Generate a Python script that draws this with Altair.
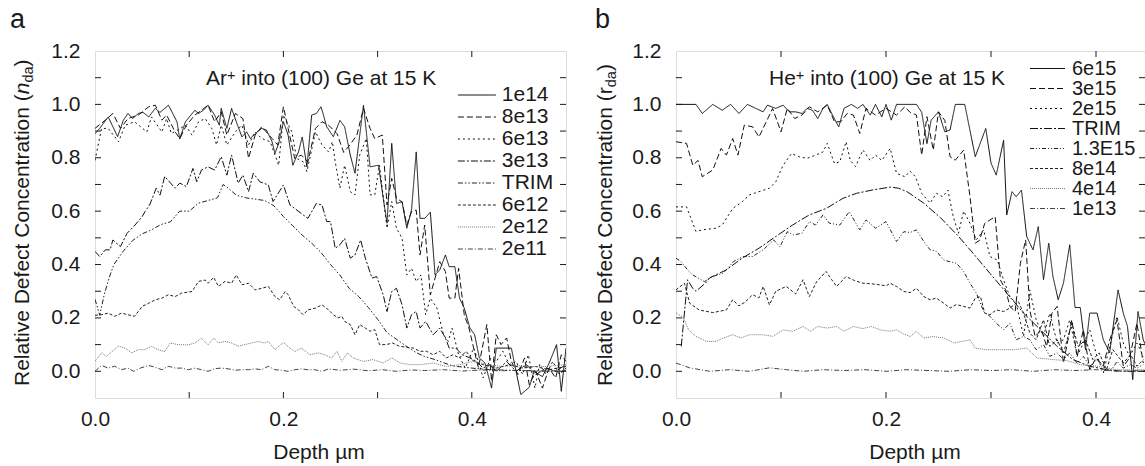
import altair as alt
import pandas as pd

FONT = "Liberation Sans"
INK = "#1a1a1a"

# ---------------- panel a : Ar+ ----------------
A_NAMES = ["1e14", "8e13", "6e13", "3e13", "TRIM", "6e12", "2e12", "2e11"]
A_DASH = [[1, 0], [6, 3], [2, 3], [7, 2, 2, 2], [5, 2, 1.5, 2, 1.5, 2], [3, 2], [1, 1], [5, 2, 1, 2]]
A_COLORS = ["#111111", "#111111", "#111111", "#111111", "#222222", "#222222", "#777777", "#444444"]

A_1E14 = [(0, 0.89), (0.005, 0.91), (0.014, 0.953), (0.024, 0.879), (0.03, 0.94), (0.035, 0.966), (0.04, 0.947),
          (0.046, 0.966), (0.051, 0.97), (0.057, 0.953), (0.064, 0.985), (0.069, 0.97), (0.078, 0.997), (0.087, 0.935),
          (0.09, 0.87), (0.096, 0.935), (0.106, 0.978), (0.11, 0.966), (0.115, 0.978), (0.12, 0.997), (0.127, 0.96),
          (0.132, 0.922), (0.134, 0.985), (0.14, 0.91), (0.145, 0.985), (0.15, 0.935), (0.156, 0.878), (0.161, 0.897),
          (0.165, 0.872), (0.17, 0.891), (0.177, 0.91), (0.182, 0.904), (0.188, 0.86), (0.191, 0.816), (0.195, 0.853),
          (0.2, 0.935), (0.205, 0.885), (0.21, 0.772), (0.216, 0.822), (0.22, 0.878), (0.225, 0.766), (0.23, 0.96),
          (0.235, 0.966), (0.24, 0.991), (0.246, 0.916), (0.253, 0.879), (0.26, 0.94), (0.265, 0.916), (0.271, 0.81),
          (0.276, 0.742), (0.285, 0.997), (0.292, 0.766), (0.301, 0.772), (0.306, 0.648), (0.31, 0.555), (0.315, 0.854),
          (0.32, 0.629), (0.326, 0.635), (0.331, 0.536), (0.336, 0.604), (0.341, 0.822), (0.345, 0.573), (0.35, 0.573),
          (0.356, 0.596), (0.361, 0.361), (0.366, 0.38), (0.372, 0.436), (0.376, 0.392), (0.382, 0.392), (0.387, 0.274),
          (0.392, 0.237), (0.398, 0.162), (0.403, 0.137), (0.408, 0.05), (0.414, 0.031), (0.421, -0.063), (0.426, 0.087),
          (0.433, 0.087), (0.442, 0.087), (0.447, 0.0), (0.452, -0.087), (0.461, -0.06), (0.466, 0.0), (0.475, -0.02),
          (0.482, 0.03), (0.49, 0.1), (0.495, -0.075), (0.5, 0.087)]
A_8E13 = [(0, 0.91), (0.011, 0.941), (0.019, 0.966), (0.027, 0.91), (0.035, 0.947), (0.046, 0.96), (0.057, 0.991),
          (0.064, 0.997), (0.071, 0.941), (0.076, 0.96), (0.085, 0.897), (0.09, 0.872), (0.097, 0.922), (0.106, 0.96),
          (0.113, 0.978), (0.12, 0.997), (0.127, 0.935), (0.134, 0.972), (0.14, 0.885), (0.149, 0.966), (0.157, 0.947),
          (0.163, 0.798), (0.17, 0.885), (0.177, 0.916), (0.188, 0.872), (0.194, 0.848), (0.2, 0.991), (0.205, 0.91),
          (0.212, 0.798), (0.219, 0.81), (0.226, 0.785), (0.234, 0.91), (0.241, 0.935), (0.248, 0.922), (0.257, 0.89),
          (0.264, 0.82), (0.271, 0.85), (0.278, 0.885), (0.285, 0.985), (0.292, 0.91), (0.297, 0.872), (0.305, 0.885),
          (0.31, 0.623), (0.315, 0.723), (0.32, 0.648), (0.326, 0.635), (0.331, 0.548), (0.336, 0.598), (0.341, 0.604),
          (0.345, 0.436), (0.35, 0.548), (0.356, 0.286), (0.361, 0.349), (0.366, 0.411), (0.372, 0.374), (0.376, 0.274),
          (0.382, 0.274), (0.386, 0.386), (0.392, 0.212), (0.397, 0.162), (0.402, 0.087), (0.407, 0.013), (0.416, 0.175),
          (0.421, -0.037), (0.426, 0.137), (0.431, 0.1), (0.437, 0.125), (0.442, 0.037), (0.449, -0.012), (0.456, 0.05),
          (0.461, -0.05), (0.468, 0.0), (0.475, -0.063), (0.482, 0.012), (0.489, -0.025), (0.495, 0.062), (0.5, 0.037)]
A_6E13 = [(0, 0.79), (0.007, 0.91), (0.014, 0.91), (0.025, 0.86), (0.032, 0.922), (0.042, 0.935), (0.055, 0.897),
          (0.06, 0.953), (0.071, 0.897), (0.076, 0.947), (0.081, 0.891), (0.088, 0.904), (0.096, 0.922), (0.103, 0.885),
          (0.11, 0.935), (0.117, 0.947), (0.124, 0.91), (0.129, 0.848), (0.134, 0.922), (0.14, 0.848), (0.149, 0.897),
          (0.156, 0.922), (0.163, 0.848), (0.17, 0.897), (0.177, 0.872), (0.186, 0.86), (0.195, 0.772), (0.2, 0.96),
          (0.209, 0.897), (0.214, 0.798), (0.221, 0.785), (0.225, 0.748), (0.234, 0.897), (0.241, 0.848), (0.248, 0.822),
          (0.252, 0.86), (0.255, 0.785), (0.26, 0.686), (0.265, 0.772), (0.271, 0.673), (0.276, 0.661), (0.281, 0.81),
          (0.288, 0.872), (0.292, 0.661), (0.297, 0.661), (0.302, 0.772), (0.31, 0.536), (0.315, 0.636), (0.32, 0.536),
          (0.326, 0.498), (0.331, 0.361), (0.336, 0.386), (0.341, 0.336), (0.346, 0.361), (0.351, 0.212), (0.356, 0.274),
          (0.363, 0.237), (0.37, 0.137), (0.375, 0.112), (0.379, 0.162), (0.386, 0.062), (0.393, 0.012), (0.402, 0.087),
          (0.407, 0.037), (0.412, -0.025), (0.42, 0.05), (0.426, 0.037), (0.433, 0.075), (0.44, 0.025), (0.447, 0.037),
          (0.454, -0.012), (0.46, 0.062), (0.467, -0.063), (0.472, 0.025), (0.479, -0.012), (0.486, 0.037),
          (0.493, -0.012), (0.5, 0.012)]
A_3E13 = [(0, 0.449), (0.005, 0.43), (0.011, 0.455), (0.016, 0.455), (0.019, 0.492), (0.027, 0.467), (0.034, 0.517),
          (0.041, 0.542), (0.05, 0.579), (0.053, 0.598), (0.058, 0.623), (0.065, 0.686), (0.069, 0.66), (0.074, 0.73),
          (0.085, 0.686), (0.09, 0.705), (0.097, 0.692), (0.104, 0.76), (0.108, 0.71), (0.113, 0.754), (0.12, 0.766),
          (0.127, 0.754), (0.134, 0.804), (0.14, 0.735), (0.145, 0.81), (0.152, 0.705), (0.157, 0.735), (0.163, 0.673),
          (0.168, 0.742), (0.175, 0.71), (0.184, 0.698), (0.189, 0.636), (0.2, 0.698), (0.207, 0.623), (0.212, 0.61),
          (0.221, 0.586), (0.226, 0.573), (0.235, 0.629), (0.241, 0.623), (0.246, 0.561), (0.25, 0.561), (0.255, 0.461),
          (0.26, 0.474), (0.265, 0.498), (0.271, 0.424), (0.276, 0.436), (0.282, 0.492), (0.287, 0.424), (0.294, 0.349),
          (0.299, 0.355), (0.306, 0.286), (0.31, 0.224), (0.315, 0.299), (0.32, 0.311), (0.326, 0.249), (0.331, 0.162),
          (0.336, 0.212), (0.341, 0.224), (0.345, 0.162), (0.351, 0.187), (0.359, 0.137), (0.366, 0.162), (0.372, 0.125),
          (0.376, 0.087), (0.383, 0.087), (0.39, 0.062), (0.398, 0.05), (0.405, 0.037), (0.412, 0.012), (0.419, 0.025),
          (0.426, 0.0), (0.437, 0.037), (0.447, 0.0), (0.458, 0.025), (0.468, -0.012), (0.479, 0.012), (0.489, 0.0),
          (0.5, 0.025)]
A_TRIM = [(0, 0.27), (0.005, 0.21), (0.01, 0.29), (0.015, 0.35), (0.02, 0.40), (0.03, 0.45), (0.04, 0.49),
          (0.05, 0.515), (0.06, 0.53), (0.07, 0.55), (0.08, 0.56), (0.09, 0.60), (0.1, 0.60), (0.11, 0.63), (0.12, 0.64),
          (0.13, 0.65), (0.136, 0.70), (0.14, 0.69), (0.15, 0.66), (0.16, 0.65), (0.17, 0.645), (0.18, 0.64),
          (0.19, 0.62), (0.2, 0.58), (0.21, 0.545), (0.22, 0.51), (0.23, 0.48), (0.24, 0.445), (0.25, 0.40),
          (0.26, 0.36), (0.27, 0.31), (0.28, 0.28), (0.29, 0.24), (0.3, 0.195), (0.31, 0.145), (0.32, 0.12),
          (0.33, 0.095), (0.34, 0.072), (0.35, 0.055), (0.36, 0.045), (0.37, 0.032), (0.38, 0.02), (0.4, 0.012),
          (0.42, 0.006), (0.45, 0.003), (0.5, 0.0)]
A_6E12 = [(0, 0.21), (0.007, 0.212), (0.014, 0.218), (0.021, 0.206), (0.028, 0.218), (0.035, 0.212), (0.042, 0.206),
          (0.05, 0.243), (0.057, 0.255), (0.064, 0.268), (0.071, 0.274), (0.078, 0.287), (0.085, 0.28), (0.092, 0.293),
          (0.103, 0.299), (0.11, 0.337), (0.117, 0.342), (0.12, 0.33), (0.126, 0.352), (0.131, 0.318), (0.138, 0.337),
          (0.145, 0.33), (0.15, 0.361), (0.156, 0.324), (0.163, 0.33), (0.17, 0.305), (0.177, 0.311), (0.184, 0.318),
          (0.191, 0.28), (0.196, 0.268), (0.202, 0.299), (0.205, 0.287), (0.211, 0.243), (0.216, 0.23), (0.221, 0.212),
          (0.226, 0.23), (0.234, 0.237), (0.241, 0.249), (0.248, 0.23), (0.253, 0.212), (0.258, 0.2), (0.262, 0.206),
          (0.265, 0.187), (0.271, 0.175), (0.276, 0.137), (0.281, 0.175), (0.287, 0.162), (0.292, 0.15), (0.297, 0.156),
          (0.302, 0.1), (0.309, 0.1), (0.316, 0.106), (0.323, 0.094), (0.331, 0.09), (0.338, 0.087), (0.345, 0.075),
          (0.352, 0.075), (0.359, 0.062), (0.366, 0.075), (0.373, 0.05), (0.38, 0.062), (0.387, 0.05), (0.394, 0.075),
          (0.402, 0.037), (0.412, 0.025), (0.426, 0.012), (0.44, 0.025), (0.454, 0.012), (0.468, 0.018),
          (0.482, 0.006), (0.5, 0.018)]
A_2E12 = [(0, 0.038), (0.007, 0.069), (0.012, 0.056), (0.018, 0.074), (0.025, 0.094), (0.032, 0.087), (0.039, 0.069),
          (0.046, 0.081), (0.053, 0.081), (0.06, 0.094), (0.067, 0.081), (0.074, 0.074), (0.08, 0.106), (0.088, 0.1),
          (0.099, 0.099), (0.106, 0.106), (0.113, 0.124), (0.12, 0.099), (0.126, 0.124), (0.131, 0.106), (0.138, 0.112),
          (0.145, 0.106), (0.152, 0.094), (0.159, 0.1), (0.166, 0.106), (0.173, 0.112), (0.18, 0.106), (0.184, 0.112),
          (0.191, 0.081), (0.2, 0.108), (0.207, 0.087), (0.212, 0.074), (0.219, 0.087), (0.228, 0.062), (0.237, 0.069),
          (0.244, 0.062), (0.251, 0.05), (0.257, 0.075), (0.262, 0.037), (0.268, 0.069), (0.274, 0.05), (0.285, 0.037),
          (0.295, 0.044), (0.306, 0.031), (0.315, 0.05), (0.324, 0.031), (0.334, 0.025), (0.345, 0.025),
          (0.359, 0.031), (0.373, 0.018), (0.387, 0.025), (0.402, 0.037), (0.416, 0.025), (0.433, 0.018),
          (0.447, 0.022), (0.461, 0.018), (0.479, 0.018), (0.5, 0.025)]
A_2E11 = [(0, 0.0), (0.007, 0.022), (0.014, 0.012), (0.021, 0.019), (0.028, 0.006), (0.035, 0.012), (0.041, 0.0),
          (0.048, 0.012), (0.057, 0.022), (0.064, 0.015), (0.071, 0.006), (0.078, 0.019), (0.085, 0.012), (0.092, 0.012),
          (0.099, 0.006), (0.106, 0.012), (0.113, 0.006), (0.12, 0.0), (0.127, 0.01), (0.134, 0.012), (0.142, 0.009),
          (0.149, 0.004), (0.156, 0.006), (0.163, 0.006), (0.17, 0.009), (0.177, 0.006), (0.184, 0.019), (0.191, 0.006),
          (0.198, 0.004), (0.205, 0.0), (0.212, 0.006), (0.219, 0.009), (0.226, 0.006), (0.233, 0.006), (0.241, 0.0),
          (0.248, 0.009), (0.26, 0.004), (0.275, 0.008), (0.29, 0.002), (0.305, 0.006), (0.32, 0.0), (0.335, 0.005),
          (0.35, 0.003), (0.37, 0.006), (0.39, 0.001), (0.41, 0.005), (0.43, 0.002), (0.45, 0.004), (0.47, 0.0),
          (0.5, 0.003)]
A_SERIES = {"1e14": A_1E14, "8e13": A_8E13, "6e13": A_6E13, "3e13": A_3E13, "TRIM": A_TRIM,
            "6e12": A_6E12, "2e12": A_2E12, "2e11": A_2E11}

# ---------------- panel b : He+ ----------------
B_NAMES = ["6e15", "3e15", "2e15", "TRIM", "1.3E15", "8e14", "4e14", "1e13"]
B_DASH = [[1, 0], [6, 3], [2, 3], [8, 2, 2, 2], [4, 2, 1, 2, 1, 2], [3, 2], [1, 1], [5, 2, 1, 2]]
B_COLORS = ["#111111", "#111111", "#111111", "#111111", "#222222", "#222222", "#777777", "#444444"]

B_6E15 = [(0, 1.0), (0.019, 1.0), (0.025, 0.966), (0.035, 1.0), (0.044, 0.978), (0.052, 1.0), (0.06, 0.966),
          (0.068, 1.0), (0.076, 0.985), (0.083, 0.972), (0.087, 0.997), (0.095, 0.985), (0.102, 0.997), (0.108, 0.972),
          (0.114, 0.972), (0.12, 0.966), (0.125, 0.985), (0.13, 0.978), (0.135, 0.947), (0.14, 0.985), (0.144, 1.0),
          (0.149, 0.96), (0.155, 0.916), (0.16, 0.985), (0.167, 1.0), (0.173, 0.985), (0.178, 1.0), (0.185, 0.96),
          (0.19, 1.0), (0.196, 0.953), (0.2, 1.0), (0.205, 0.941), (0.21, 1.0), (0.219, 1.0), (0.229, 1.0),
          (0.234, 0.97), (0.239, 0.853), (0.243, 0.941), (0.25, 0.972), (0.256, 0.897), (0.261, 0.904), (0.266, 1.0),
          (0.275, 1.0), (0.285, 0.804), (0.295, 0.91), (0.3, 0.78), (0.305, 0.735), (0.312, 0.866), (0.315, 0.586),
          (0.32, 0.673), (0.324, 0.654), (0.329, 0.679), (0.334, 0.505), (0.34, 0.455), (0.345, 0.542), (0.35, 0.343),
          (0.355, 0.48), (0.359, 0.355), (0.364, 0.268), (0.369, 0.33), (0.375, 0.474), (0.38, 0.239), (0.385, 0.239),
          (0.39, 0.081), (0.394, 0.218), (0.401, 0.218), (0.407, 0.118), (0.413, 0.069), (0.421, 0.305),
          (0.426, 0.218), (0.43, 0.168), (0.435, -0.031), (0.44, 0.224), (0.445, 0.118), (0.447, 0.1)]
B_3E15 = [(0, 0.86), (0.01, 0.854), (0.016, 0.772), (0.021, 0.79), (0.025, 0.729), (0.035, 0.754), (0.043, 0.835),
          (0.048, 0.81), (0.054, 0.872), (0.059, 0.81), (0.065, 0.922), (0.073, 0.916), (0.079, 0.878), (0.086, 0.935),
          (0.092, 0.985), (0.1, 0.897), (0.106, 0.985), (0.113, 0.947), (0.12, 0.96), (0.127, 0.991), (0.135, 0.972),
          (0.144, 0.997), (0.151, 0.935), (0.157, 0.935), (0.163, 0.966), (0.169, 0.96), (0.175, 0.891),
          (0.181, 0.985), (0.19, 0.96), (0.2, 0.985), (0.21, 0.96), (0.218, 0.991), (0.223, 0.97), (0.229, 0.96),
          (0.234, 0.81), (0.239, 0.954), (0.245, 0.829), (0.25, 0.972), (0.256, 0.94), (0.261, 0.804), (0.266, 0.791),
          (0.274, 0.829), (0.28, 0.654), (0.285, 0.48), (0.289, 0.49), (0.294, 0.554), (0.299, 0.567), (0.304, 0.579),
          (0.309, 0.342), (0.314, 0.305), (0.318, 0.243), (0.323, 0.224), (0.328, 0.405), (0.333, 0.492),
          (0.337, 0.23), (0.342, 0.13), (0.348, 0.156), (0.353, 0.093), (0.358, 0.218), (0.363, 0.243),
          (0.369, 0.031), (0.377, 0.193), (0.382, 0.056), (0.388, 0.156), (0.394, 0.006), (0.4, 0.05), (0.407, 0.019),
          (0.413, 0.118), (0.42, 0.193), (0.426, 0.019), (0.432, 0.05), (0.439, 0.18), (0.445, 0.031)]
B_2E15 = [(0, 0.616), (0.01, 0.616), (0.019, 0.524), (0.025, 0.53), (0.038, 0.536), (0.044, 0.548), (0.054, 0.61),
          (0.063, 0.635), (0.07, 0.661), (0.079, 0.673), (0.089, 0.686), (0.095, 0.71), (0.102, 0.772), (0.11, 0.816),
          (0.117, 0.804), (0.125, 0.798), (0.133, 0.81), (0.14, 0.822), (0.144, 0.854), (0.151, 0.778),
          (0.156, 0.785), (0.162, 0.86), (0.166, 0.79), (0.171, 0.767), (0.178, 0.829), (0.185, 0.79), (0.19, 0.81),
          (0.196, 0.79), (0.204, 0.835), (0.21, 0.742), (0.218, 0.729), (0.223, 0.75), (0.228, 0.729), (0.234, 0.667),
          (0.242, 0.63), (0.248, 0.667), (0.254, 0.654), (0.259, 0.679), (0.264, 0.58), (0.269, 0.517), (0.274, 0.6),
          (0.28, 0.554), (0.286, 0.492), (0.293, 0.53), (0.299, 0.43), (0.306, 0.417), (0.312, 0.342), (0.318, 0.28),
          (0.324, 0.255), (0.331, 0.131), (0.337, 0.305), (0.343, 0.193), (0.35, 0.131), (0.356, 0.218),
          (0.363, 0.106), (0.369, 0.118), (0.375, 0.193), (0.382, 0.056), (0.388, 0.106), (0.394, 0.156),
          (0.4, 0.069), (0.407, -0.006), (0.413, 0.093), (0.42, 0.206), (0.426, 0.106), (0.432, 0.056),
          (0.439, 0.106), (0.445, 0.056)]
B_TRIM = [(0.005, 0.093), (0.011, 0.343), (0.016, 0.31), (0.019, 0.3), (0.028, 0.33), (0.032, 0.35), (0.048, 0.38),
          (0.063, 0.424), (0.079, 0.461), (0.095, 0.505), (0.111, 0.548), (0.127, 0.586), (0.143, 0.61),
          (0.159, 0.648), (0.172, 0.667), (0.188, 0.68), (0.204, 0.69), (0.212, 0.686), (0.22, 0.673), (0.236, 0.63),
          (0.252, 0.575), (0.268, 0.51), (0.283, 0.442), (0.299, 0.367), (0.315, 0.293), (0.331, 0.218),
          (0.347, 0.156), (0.363, 0.093), (0.378, 0.044), (0.394, 0.019), (0.41, 0.006), (0.426, 0.0), (0.447, 0.0)]
B_13E15 = [(0, 0.424), (0.005, 0.41), (0.011, 0.38), (0.016, 0.361), (0.027, 0.336), (0.035, 0.355), (0.045, 0.368),
           (0.055, 0.412), (0.064, 0.43), (0.073, 0.43), (0.083, 0.455), (0.093, 0.492), (0.099, 0.467),
           (0.106, 0.523), (0.112, 0.511), (0.12, 0.517), (0.127, 0.561), (0.133, 0.548), (0.14, 0.586),
           (0.146, 0.555), (0.156, 0.548), (0.165, 0.598), (0.175, 0.53), (0.181, 0.567), (0.19, 0.536), (0.2, 0.561),
           (0.21, 0.486), (0.217, 0.523), (0.223, 0.52), (0.229, 0.53), (0.236, 0.486), (0.242, 0.455), (0.248, 0.45),
           (0.255, 0.417), (0.261, 0.41), (0.267, 0.405), (0.274, 0.374), (0.28, 0.33), (0.286, 0.293),
           (0.293, 0.224), (0.299, 0.206), (0.305, 0.18), (0.312, 0.156), (0.318, 0.18), (0.324, 0.118),
           (0.331, 0.131), (0.337, 0.118), (0.343, 0.081), (0.35, 0.1), (0.356, 0.056), (0.363, 0.069), (0.369, 0.044),
           (0.375, 0.069), (0.382, 0.031), (0.388, 0.056), (0.394, 0.019), (0.401, 0.044), (0.407, 0.019),
           (0.414, 0.0), (0.42, 0.037), (0.426, 0.012), (0.433, 0.025), (0.439, 0.012), (0.445, 0.025)]
B_8E14 = [(0, 0.305), (0.008, 0.33), (0.013, 0.255), (0.022, 0.23), (0.035, 0.22), (0.048, 0.23), (0.054, 0.268),
          (0.06, 0.245), (0.066, 0.26), (0.073, 0.287), (0.079, 0.275), (0.083, 0.318), (0.089, 0.249), (0.095, 0.3),
          (0.105, 0.318), (0.114, 0.29), (0.121, 0.343), (0.127, 0.28), (0.134, 0.336), (0.143, 0.374),
          (0.148, 0.345), (0.153, 0.318), (0.162, 0.355), (0.17, 0.34), (0.178, 0.33), (0.186, 0.328),
          (0.194, 0.324), (0.2, 0.32), (0.204, 0.33), (0.21, 0.318), (0.217, 0.299), (0.223, 0.295), (0.229, 0.311),
          (0.236, 0.28), (0.242, 0.268), (0.248, 0.274), (0.255, 0.255), (0.261, 0.237), (0.267, 0.25),
          (0.274, 0.243), (0.28, 0.237), (0.285, 0.274), (0.29, 0.28), (0.294, 0.218), (0.299, 0.212), (0.305, 0.23),
          (0.312, 0.224), (0.318, 0.237), (0.326, 0.262), (0.331, 0.218), (0.337, 0.143), (0.343, 0.118),
          (0.35, 0.193), (0.356, 0.093), (0.363, 0.118), (0.369, 0.069), (0.377, 0.18), (0.383, 0.093),
          (0.39, 0.118), (0.397, 0.044), (0.403, 0.069), (0.41, 0.006), (0.416, 0.081), (0.426, 0.031),
          (0.433, 0.062), (0.439, 0.019), (0.445, 0.044)]
B_4E14 = [(0, 0.22), (0.007, 0.2), (0.012, 0.155), (0.019, 0.131), (0.029, 0.112), (0.038, 0.112), (0.045, 0.125),
          (0.054, 0.137), (0.062, 0.125), (0.07, 0.137), (0.083, 0.137), (0.092, 0.131), (0.102, 0.155),
          (0.111, 0.15), (0.121, 0.168), (0.128, 0.15), (0.135, 0.168), (0.144, 0.162), (0.153, 0.168), (0.16, 0.15),
          (0.169, 0.168), (0.178, 0.16), (0.186, 0.168), (0.195, 0.155), (0.204, 0.15), (0.21, 0.155), (0.217, 0.14),
          (0.223, 0.13), (0.229, 0.15), (0.236, 0.125), (0.245, 0.13), (0.255, 0.125), (0.265, 0.106),
          (0.272, 0.112), (0.28, 0.118), (0.285, 0.087), (0.296, 0.081), (0.309, 0.081), (0.322, 0.081),
          (0.334, 0.087), (0.344, 0.05), (0.359, 0.044), (0.372, 0.04), (0.385, 0.025), (0.401, 0.019),
          (0.42, 0.006), (0.447, 0.006)]
B_1E13 = [(0, 0.031), (0.013, 0.013), (0.032, 0.0), (0.051, 0.006), (0.07, 0.0), (0.089, 0.013), (0.105, 0.006),
          (0.121, 0.0), (0.14, 0.006), (0.16, 0.003), (0.18, 0.006), (0.2, 0.0), (0.22, 0.006), (0.24, 0.003),
          (0.26, 0.0), (0.28, 0.006), (0.3, 0.003), (0.32, 0.006), (0.34, 0.0), (0.36, 0.006), (0.38, 0.003),
          (0.4, 0.006), (0.42, 0.0), (0.447, 0.003)]
B_SERIES = {"6e15": B_6E15, "3e15": B_3E15, "2e15": B_2E15, "TRIM": B_TRIM, "1.3E15": B_13E15,
            "8e14": B_8E14, "4e14": B_4E14, "1e13": B_1E13}

X_LABELS = [0.0, 0.2, 0.4]
Y_LABELS = [0.0, 0.2, 0.4, 0.6, 0.8, 1.0, 1.2]
X_TICKS = [0.1, 0.2, 0.3, 0.4]
Y_TICKS = [0.0, 0.1, 0.2, 0.3, 0.4, 0.5, 0.6, 0.7, 0.8, 0.9, 1.0, 1.1]

YTITLE_MAIN = "Relative Defect Concentration ("
XTITLE = "Depth \u00b5m"

H = 347
FS = 21
SUB = 14.5
SYM_PATH = "M-2.5,0H2.5"   # wide legend stroke sample
SYM_K = 2.5

# Arial / Liberation Sans advance widths (per 1000 em) for laying out text pieces
ADV = {' ': 278, '(': 333, ')': 333, '.': 278, '+': 584, 'A': 667, 'C': 722, 'D': 722, 'G': 778, 'H': 722,
       'K': 667, 'R': 722, 'a': 556, 'c': 500, 'd': 556, 'e': 556, 'f': 278, 'h': 556, 'i': 222, 'l': 222,
       'm': 833, 'n': 556, 'o': 556, 'p': 556, 'r': 333, 't': 278, 'v': 500}


def tw(s, fs):
    return sum(ADV.get(c, 556) for c in s) / 1000.0 * fs


def txt(s, x, y, size=FS, angle=0, style="normal", align="left", baseline="alphabetic"):
    kw = dict(font=FONT, fontSize=size, color=INK, align=align, baseline=baseline, fontStyle=style)
    if angle:
        kw["angle"] = angle
    return alt.Chart(pd.DataFrame({"t": [s]})).mark_text(**kw).encode(
        text="t:N", x=alt.value(x), y=alt.value(y))


def panel(series, names, dashes, colors, xmax, width, line_x0, line_x1, label_x, first_row_y, row_h, lab_fs,
          letter, letter_x, ysym, ysym_style, ytitle_x, ion, ion_x, xtitle_cx):
    rows = []
    for nm in names:
        for d, v in series[nm]:
            rows.append({"series": nm, "depth": d, "value": v})
    df = pd.DataFrame(rows)
    xs = alt.Scale(domain=[0, xmax], nice=False, zero=False)
    ys = alt.Scale(domain=[-0.1, 1.2], nice=False, zero=False)
    xaxis = alt.Axis(values=X_LABELS, format=".1f", title=None, domain=False, ticks=False, tickSize=0,
                     grid=False, labelFont=FONT, labelFontSize=FS, labelColor=INK, labelPadding=10,
                     labelFlush=False, labelOverlap=False)
    yaxis = alt.Axis(values=Y_LABELS, format=".1f", title=None, domain=False, ticks=False, tickSize=0,
                     grid=False, labelFont=FONT, labelFontSize=FS, labelColor=INK, labelPadding=15,
                     labelFlush=False, labelOverlap=False)
    symlen = line_x1 - line_x0
    side = symlen / SYM_K
    center = (line_x0 + line_x1) / 2.0
    legx = center - side / 2.0
    leg = alt.Legend(title=None, orient="none", legendX=legx, legendY=first_row_y - row_h / 2.0,
                     symbolType=SYM_PATH, symbolSize=side * side, symbolStrokeWidth=1,
                     labelFont=FONT, labelFontSize=lab_fs, labelColor=INK, labelLimit=0,
                     labelOffset=label_x - (legx + side), rowPadding=row_h - lab_fs, padding=0)
    lines = alt.Chart(df).mark_line(strokeWidth=1, clip=True).encode(
        x=alt.X("depth:Q", scale=xs, axis=xaxis),
        y=alt.Y("value:Q", scale=ys, axis=yaxis),
        strokeDash=alt.StrokeDash("series:N", scale=alt.Scale(domain=names, range=dashes), legend=leg),
        color=alt.Color("series:N", scale=alt.Scale(domain=names, range=colors), legend=leg),
    )
    xt = pd.DataFrame({"depth": X_TICKS})
    yt = pd.DataFrame({"value": Y_TICKS})
    rule = dict(color=INK, strokeWidth=1)
    tb = alt.Chart(xt).mark_rule(**rule).encode(x=alt.X("depth:Q", scale=xs, axis=xaxis),
                                               y=alt.value(H), y2=alt.value(H - 6))
    tt = alt.Chart(xt).mark_rule(**rule).encode(x=alt.X("depth:Q", scale=xs, axis=xaxis),
                                               y=alt.value(0), y2=alt.value(6))
    tl = alt.Chart(yt).mark_rule(**rule).encode(y=alt.Y("value:Q", scale=ys, axis=yaxis),
                                               x=alt.value(0), x2=alt.value(6))
    tr = alt.Chart(yt).mark_rule(**rule).encode(y=alt.Y("value:Q", scale=ys, axis=yaxis),
                                               x=alt.value(width), x2=alt.value(width - 6))
    layers = [lines, tb, tt, tl, tr]
    layers.append(txt(letter, letter_x, -23, size=27))
    y0 = 335
    l1 = tw(YTITLE_MAIN, FS)
    l2 = tw(ysym, FS)
    l3 = tw("da", SUB)
    layers.append(txt(YTITLE_MAIN, ytitle_x, y0, angle=270))
    layers.append(txt(ysym, ytitle_x, y0 - l1, angle=270, style=ysym_style))
    layers.append(txt("da", ytitle_x + 4, y0 - l1 - l2, size=SUB, angle=270))
    layers.append(txt(")", ytitle_x, y0 - l1 - l2 - l3, angle=270))
    layers.append(txt(XTITLE, xtitle_cx, 408, align="center"))
    la = tw(ion, FS)
    layers.append(txt(ion, ion_x, 34))
    layers.append(txt("+", ion_x + la, 29, size=SUB))
    layers.append(txt("into (100) Ge at 15 K", ion_x + la + tw("+", SUB) + tw(" ", FS), 34))
    return alt.layer(*layers).properties(width=width, height=H)


WA = 471
WB = 469
# legend geometry in plot coordinates: sample line start/end, label start, first row centre, row height, font
pa = panel(A_SERIES, A_NAMES, A_DASH, A_COLORS, 0.5, WA, 360, 398, 401, 44, 21, 21,
           "a", -85, "n", "italic", -66, "Ar", 111, 224)
pb = panel(B_SERIES, B_NAMES, B_DASH, B_COLORS, WB / 1050.0, WB, 351, 386, 390, 17.5, 20, 20,
           "b", -81, "r", "normal", -64, "He", 93, 239)

chart = alt.hconcat(pa, pb, spacing=110, bounds="flush").resolve_scale(
    x="independent", y="independent", strokeDash="independent", color="independent"
).resolve_legend(strokeDash="independent", color="independent").properties(
    padding={"left": 95, "top": 51, "right": 1050, "bottom": 415},
    autosize=alt.AutoSizeParams(type="none"),
    background="white",
).configure_view(stroke=INK, strokeWidth=1.2).configure(font=FONT)

chart.save("out.html", embed_options={"renderer": "svg", "actions": False})
